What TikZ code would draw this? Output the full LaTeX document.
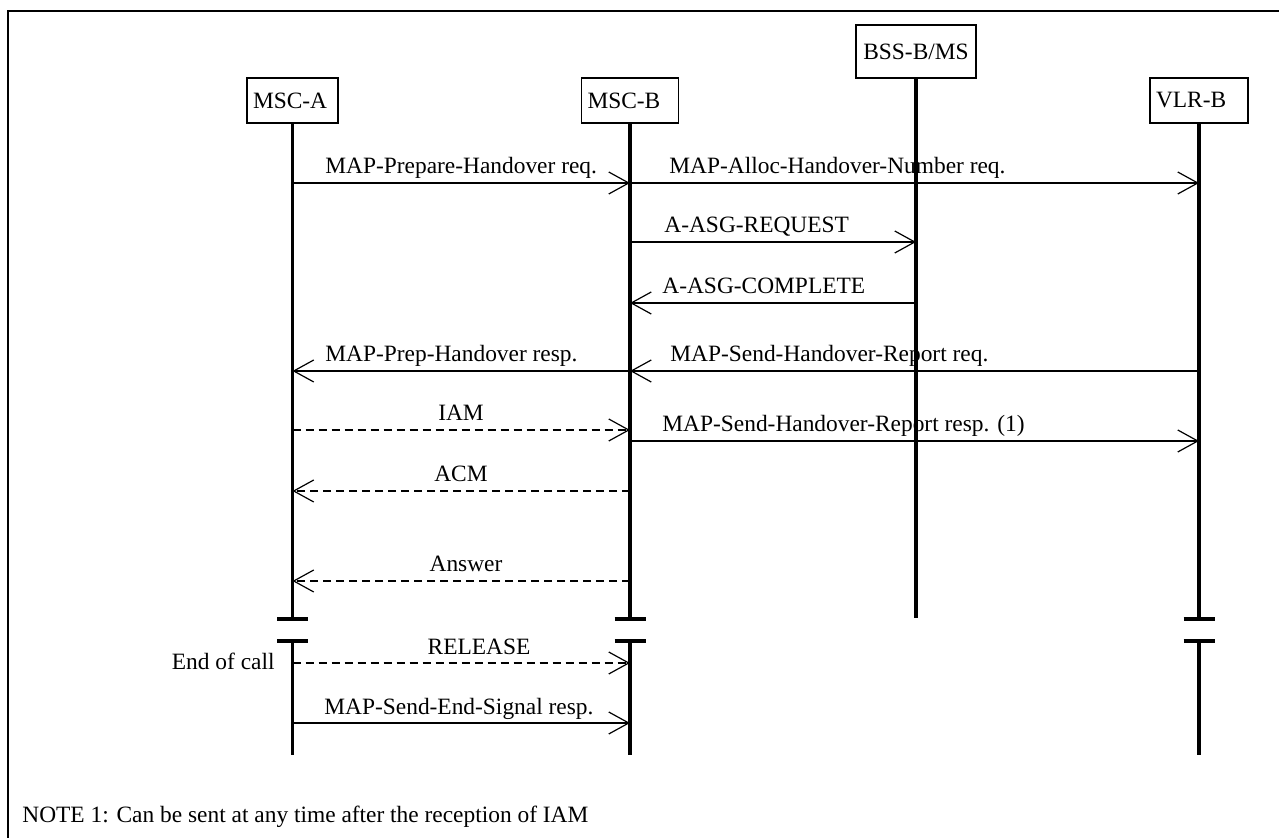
\documentclass[tikz,border=0pt]{standalone}
\usepackage{fontspec}
\setmainfont{Liberation Serif}
\usetikzlibrary{arrows.meta}

\begin{document}
\begin{tikzpicture}[x=0.5pt, y=-0.5pt,
  ent/.style={draw, line width=0.6pt, minimum height=22.5pt, inner xsep=3pt,
    align=left, font=\fontsize{11.7}{14}\selectfont},
  life/.style={line width=1.6pt},
  brk/.style={line width=2pt},
  msg/.style={line width=0.6pt, -{Straight Barb[length=10pt, width=11pt]}},
  sig/.style={msg, dash pattern=on 4pt off 2.5pt},
  lbl/.style={inner sep=0pt, font=\fontsize{11.7}{14}\selectfont}]
\useasboundingbox (0,0) rectangle (1279,838);
% frame (only left and top edges are inside the page)
\draw[line width=0.6pt] (8,838) -- (8,11) -- (1279,11);
% entities
\node[ent, text width=39.5pt] (msca) at (292.5,100.5) {MSC-A};
\node[ent, text width=42.5pt] (mscb) at (630,100.5) {MSC-B};
\node[ent, text width=54pt, align=center, minimum height=26.5pt] (bss) at (916,51.5) {BSS-B/MS};
\node[ent, text width=43pt] (vlrb) at (1199,100.5) {VLR-B};
% lifelines, broken before the end of call
\draw[life] (msca.south) -- (msca |- 0,619);
\draw[life] (msca |- 0,641) -- (msca |- 0,755);
\draw[life] (mscb.south) -- (mscb |- 0,619);
\draw[life] (mscb |- 0,641) -- (mscb |- 0,755);
\draw[life] (bss.south) -- (bss |- 0,618);
\draw[life] (vlrb.south) -- (vlrb |- 0,619);
\draw[life] (vlrb |- 0,641) -- (vlrb |- 0,755);
\draw[brk] (msca |- 0,619) +(-15.5,0) -- +(15.5,0);
\draw[brk] (msca |- 0,641) +(-15.5,0) -- +(15.5,0);
\draw[brk] (mscb |- 0,619) +(-15.5,0) -- +(15.5,0);
\draw[brk] (mscb |- 0,641) +(-15.5,0) -- +(15.5,0);
\draw[brk] (vlrb |- 0,619) +(-15.5,0) -- +(15.5,0);
\draw[brk] (vlrb |- 0,641) +(-15.5,0) -- +(15.5,0);
% handover preparation
\draw[msg] (msca |- 0,183) -- (mscb |- 0,183);
\node[lbl, anchor=base west] (prepreq) at (325,174) {MAP-Prepare-Handover req.};
\draw[msg] (mscb |- 0,183) -- (vlrb |- 0,183);
\node[lbl, anchor=base west] (allocreq) at (669,174) {MAP-Alloc-Handover-Number req.};
\draw[msg] (mscb |- 0,242) -- (bss |- 0,242);
\node[lbl, anchor=base west] (asgreq) at (664,233) {A-ASG-REQUEST};
\draw[msg] (bss |- 0,303) -- (mscb |- 0,303);
\node[lbl, anchor=base west] (asgcmp) at (662,294) {A-ASG-COMPLETE};
\draw[msg] (mscb |- 0,371) -- (msca |- 0,371);
\node[lbl, anchor=base west] (prepresp) at (325,362) {MAP-Prep-Handover resp.};
\draw[msg] (vlrb |- 0,371) -- (mscb |- 0,371);
\node[lbl, anchor=base west] (repreq) at (670,362) {MAP-Send-Handover-Report req.};
% call set-up
\draw[sig] (msca |- 0,430) -- (mscb |- 0,430);
\node[lbl, anchor=base] (iam) at (461,421) {IAM};
\draw[msg] (mscb |- 0,441) -- (vlrb |- 0,441);
\node[lbl, anchor=base west] (represp) at (662,432) {MAP-Send-Handover-Report resp. (1)};
\draw[sig] (mscb |- 0,491) -- (msca |- 0,491);
\node[lbl, anchor=base] (acm) at (461,482) {ACM};
\draw[sig] (mscb |- 0,581) -- (msca |- 0,581);
\node[lbl, anchor=base] (anm) at (466,572) {Answer};
% end of call
\draw[sig] (msca |- 0,663) -- (mscb |- 0,663);
\node[lbl, anchor=base] (rel) at (479,654) {RELEASE};
\node[lbl, anchor=base east] (eoc) at (275,670) {End of call};
\draw[msg] (msca |- 0,723) -- (mscb |- 0,723);
\node[lbl, anchor=base west] (endsig) at (324,714) {MAP-Send-End-Signal resp.};
% note
\node[lbl, anchor=base west] (note) at (22,822) {NOTE 1: Can be sent at any time after the reception of IAM};
\end{tikzpicture}
\end{document}
